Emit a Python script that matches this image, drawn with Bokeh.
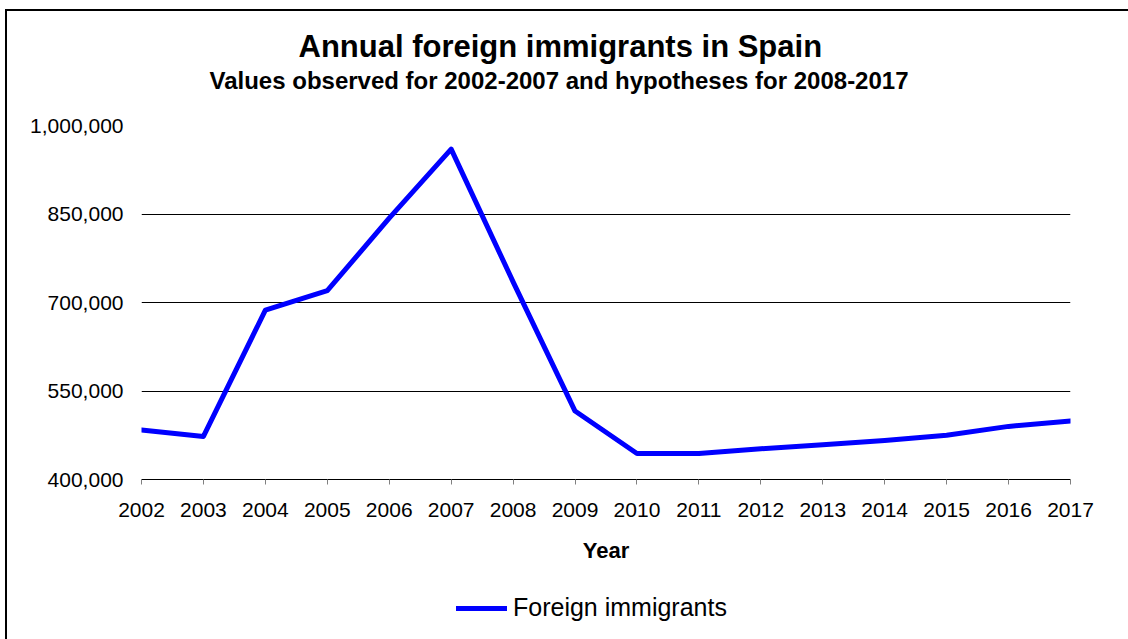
from bokeh.plotting import figure
from bokeh.layouts import column
from bokeh.models import (FixedTicker, NumeralTickFormatter, Label, Legend, LegendItem, ColumnDataSource)
from bokeh.embed import file_html
from bokeh.resources import INLINE

years = [2002, 2003, 2004, 2005, 2006, 2007, 2008, 2009, 2010, 2011, 2012, 2013, 2014, 2015, 2016, 2017]
immigrants = [484000, 473000, 687000, 720000, 843000, 960000, 735000, 516000, 444000, 444000,
              452000, 459000, 466000, 475000, 490000, 499000]
y_ticks = [400000, 550000, 700000, 850000, 1000000]
title_text = "Annual foreign immigrants in Spain"
subtitle_text = "Values observed for 2002-2007 and hypotheses for 2008-2017"
series_name = "Foreign immigrants"
x_label = "Year"

FONT = "Liberation Sans"
W = 1128
LEFT, RIGHT = 141, 58
TOP_H, MAIN_H, LEG_H = 105, 475, 59
EDGE_TOP = "inset 5px 9px 0 0 #ffffff, inset 7px 11px 0 0 #000000"
EDGE_LEFT = "inset 5px 0 0 0 #ffffff, inset 7px 0 0 0 #000000"


def bare(fig):
    fig.axis.visible = False
    fig.grid.visible = False
    fig.outline_line_color = None
    fig.background_fill_color = None
    fig.border_fill_color = None


# ---- title strip (page-pixel coordinates, y downward) ----
top = figure(width=W, height=TOP_H, x_range=(LEFT, W - RIGHT), y_range=(TOP_H, 0),
             output_backend="svg", toolbar_location=None,
             min_border_left=LEFT, min_border_right=RIGHT, min_border_top=0, min_border_bottom=0)
bare(top)
top.styles = {"box-shadow": EDGE_TOP, "background-color": "#ffffff"}
top.add_layout(Label(x=298, y=46, text=title_text, text_font=FONT, text_font_style="bold",
                     text_font_size="31px", text_align="left", text_baseline="alphabetic",
                     text_color="black"))
top.add_layout(Label(x=209, y=80, text=subtitle_text, text_font=FONT, text_font_style="bold",
                     text_font_size="24px", text_align="left", text_baseline="alphabetic",
                     text_color="black"))

# ---- main chart ----
p = figure(width=W, height=MAIN_H, x_range=(2002, 2017), y_range=(400000, 1000000),
           output_backend="svg", toolbar_location=None,
           min_border_left=LEFT, min_border_right=RIGHT, min_border_top=20, min_border_bottom=101)
p.styles = {"box-shadow": EDGE_LEFT, "background-color": "#ffffff"}
p.background_fill_color = "white"
p.border_fill_color = None
p.outline_line_color = None

src = ColumnDataSource(dict(x=years, y=immigrants))
p.line("x", "y", source=src, line_color="#0000FF", line_width=5, line_join="round", line_cap="round")

p.xaxis.ticker = FixedTicker(ticks=years)
p.xaxis.axis_line_color = "black"
p.xaxis.axis_line_width = 1
p.xaxis.major_tick_line_color = "#808080"
p.xaxis.major_tick_in = 0
p.xaxis.major_tick_out = 5
p.xaxis.minor_tick_line_color = None
p.xaxis.major_label_text_font = FONT
p.xaxis.major_label_text_font_size = "21px"
p.xaxis.major_label_text_color = "black"
p.xaxis.major_label_standoff = 18
p.xaxis.axis_label = x_label
p.xaxis.axis_label_text_font = FONT
p.xaxis.axis_label_text_font_style = "bold"
p.xaxis.axis_label_text_font_size = "22px"
p.xaxis.axis_label_text_color = "black"
p.xaxis.axis_label_standoff = 18

p.yaxis.ticker = FixedTicker(ticks=y_ticks)
p.yaxis.formatter = NumeralTickFormatter(format="0,0")
p.yaxis.axis_line_color = None
p.yaxis.major_tick_line_color = None
p.yaxis.minor_tick_line_color = None
p.yaxis.major_tick_in = 0
p.yaxis.major_tick_out = 0
p.yaxis.major_label_text_font = FONT
p.yaxis.major_label_text_font_size = "21px"
p.yaxis.major_label_text_color = "black"
p.yaxis.major_label_standoff = 18

p.xgrid.grid_line_color = None
p.ygrid.grid_line_color = "black"
p.ygrid.grid_line_width = 1

# ---- legend strip ----
leg = figure(width=W, height=LEG_H, x_range=(LEFT, W - RIGHT), y_range=(0, LEG_H),
             output_backend="svg", toolbar_location=None,
             min_border_left=LEFT, min_border_right=RIGHT, min_border_top=0, min_border_bottom=0)
bare(leg)
leg.styles = {"box-shadow": EDGE_LEFT, "background-color": "#ffffff"}
# same series; it lies outside this strip's ranges, so only its legend entry is visible
r_leg = leg.line(years, immigrants, line_color="#0000FF", line_width=5, line_cap="round")
legend = Legend(items=[LegendItem(label=series_name, renderers=[r_leg])], location=(456 - LEFT, 17),
                orientation="horizontal", padding=0, margin=0, spacing=0,
                border_line_color=None, background_fill_alpha=0,
                glyph_width=51, glyph_height=26, label_standoff=6,
                label_text_font=FONT, label_text_font_size="25px", label_text_color="black",
                label_height=26)
leg.add_layout(legend, "center")

layout = column(top, p, leg, spacing=0)
open("out.html", "w").write(file_html(layout, INLINE))
